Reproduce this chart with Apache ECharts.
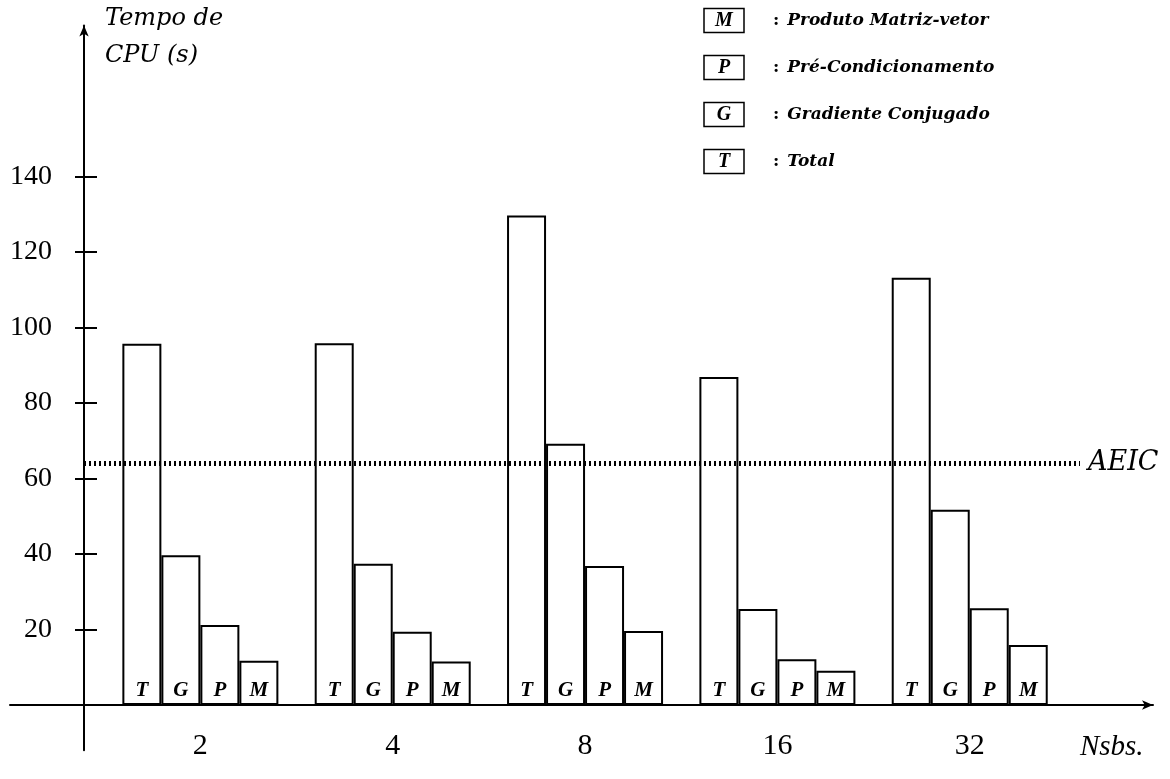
<!DOCTYPE html>
<html>
<head>
<meta charset="utf-8">
<script src="https://cdn.jsdelivr.net/npm/echarts@6/dist/echarts.min.js"></script>
<style>
  html, body { margin: 0; padding: 0; background: #fff; }
  #chart { width: 1170px; height: 779px; }
</style>
</head>
<body>
<div id="chart"></div>
<script>
// Number of subdomains (Nsbs.) and CPU time (s) per phase
const categories = ['2', '4', '8', '16', '32'];
const total      = [95.7, 95.8, 129.7, 86.9, 113.2];
const gradiente  = [39.7, 37.4, 69.2, 25.4, 51.7];
const precond    = [21.2, 19.4, 36.8, 12.1, 25.6];
const matvec     = [11.7, 11.5, 19.6, 9.1, 15.9];

// Reference level of the AEIC solver
const aeicLevel = 64;

// Series names, the letter shown inside each bar, and legend order
const seriesNames   = ['Total', 'Gradiente Conjugado', 'Pré-Condicionamento', 'Produto Matriz-vetor'];
const seriesLetters = ['T', 'G', 'P', 'M'];
const legendOrder   = ['Produto Matriz-vetor', 'Pré-Condicionamento', 'Gradiente Conjugado', 'Total'];

// Y tick labels
const yTickValues = [20, 40, 60, 80, 100, 120, 140];
const yMin = -12;
const yMax = 180;

const seriesValues = [total, gradiente, precond, matvec];
const letterOf = {};
seriesNames.forEach((n, i) => { letterOf[n] = seriesLetters[i]; });

const SERIF = '"Liberation Serif", "DejaVu Serif", serif';
// full plot height runs from yMax down to yMin; the bar grid stops at zero
const TOP = 25.5, BOTTOM = 28.7, BAR_BOTTOM = 74;

const chart = echarts.init(document.getElementById('chart'), null, { renderer: 'canvas' });

const barSeries = seriesNames.map((name, i) => ({
  name: name,
  type: 'bar',
  xAxisIndex: 1,
  yAxisIndex: 1,
  data: seriesValues[i],
  barWidth: 39,
  barGap: '0%',
  itemStyle: { color: '#fff', borderColor: '#000', borderWidth: 2 },
  label: {
    show: true,
    position: 'insideBottom',
    distance: 4,
    formatter: seriesLetters[i],
    fontFamily: SERIF,
    fontStyle: 'italic',
    fontWeight: 'bold',
    fontSize: 21,
    color: '#000'
  },
  emphasis: { disabled: true }
}));

const option = {
  animation: false,
  backgroundColor: '#fff',
  grid: [
    // vertical axis and the AEIC reference line
    { left: 84, right: 90, top: TOP, bottom: BOTTOM, outerBoundsMode: 'none', containLabel: false },
    // bar groups
    { left: 104.2, right: 104.1, top: TOP, bottom: BAR_BOTTOM, outerBoundsMode: 'none', containLabel: false },
    // long horizontal base line
    { left: 10, right: 17, top: TOP, bottom: BOTTOM, outerBoundsMode: 'none', containLabel: false }
  ],
  legend: {
    data: legendOrder,
    orient: 'vertical',
    left: 698,
    top: 7,
    padding: 0,
    itemGap: 20,
    itemWidth: 0,
    itemHeight: 25,
    selectedMode: false,
    itemStyle: { opacity: 0 },
    formatter: name => `{box|${letterOf[name]}}{sep|:}{txt|${name}}`,
    textStyle: {
      color: '#000',
      rich: {
        box: {
          width: 38, height: 23, align: 'center', verticalAlign: 'middle',
          borderColor: '#000', borderWidth: 1.5, padding: [1, 1, 0, 1],
          fontFamily: SERIF, fontStyle: 'italic', fontWeight: 'bold', fontSize: 20, color: '#000'
        },
        sep: {
          padding: [0, 0, 0, 29], verticalAlign: 'middle',
          fontFamily: '"DejaVu Serif", serif', fontWeight: 'bold', fontSize: 17, color: '#000'
        },
        txt: {
          padding: [0, 0, 0, 8], verticalAlign: 'middle',
          fontFamily: '"DejaVu Serif", serif', fontStyle: 'italic', fontWeight: 'bold', fontSize: 17, color: '#000'
        }
      }
    }
  },
  xAxis: [
    { gridIndex: 0, type: 'value', min: 0, max: 1, show: false },
    {
      gridIndex: 1,
      type: 'category',
      data: categories,
      axisLine: { show: false },
      axisTick: { show: false },
      axisLabel: { margin: 26, fontFamily: SERIF, fontSize: 30, color: '#000' },
      name: 'Nsbs.',
      nameLocation: 'end',
      nameGap: 14,
      nameTextStyle: {
        align: 'left', verticalAlign: 'top', padding: [28, 0, 0, 0],
        fontFamily: SERIF, fontStyle: 'italic', fontSize: 29, color: '#000'
      }
    },
    {
      gridIndex: 2,
      type: 'value', min: 0, max: 1,
      axisLine: { show: true, onZero: true, symbol: ['none', 'arrow'], symbolSize: [7, 11],
                  lineStyle: { color: '#000', width: 2 } },
      axisTick: { show: false },
      axisLabel: { show: false },
      splitLine: { show: false }
    }
  ],
  yAxis: [
    {
      gridIndex: 0,
      type: 'value', min: yMin, max: yMax,
      axisLine: { show: true, symbol: ['none', 'arrow'], symbolSize: [7, 11],
                  lineStyle: { color: '#000', width: 2 } },
      axisTick: { show: false },
      splitLine: { show: false },
      axisLabel: { customValues: yTickValues, margin: 32, fontFamily: SERIF, fontSize: 28, color: '#000' },
      name: 'Tempo de\nCPU (s)',
      nameLocation: 'end',
      nameGap: 25,
      nameTextStyle: {
        align: 'left', verticalAlign: 'top', padding: [0, 0, 0, 21], lineHeight: 37,
        fontFamily: '"DejaVu Serif", serif', fontStyle: 'italic', fontSize: 24, color: '#000'
      }
    },
    {
      gridIndex: 1,
      type: 'value', min: 0, max: yMax,
      offset: 7.2,
      axisLine: { show: false },
      axisTick: { show: true, customValues: yTickValues, length: 22, lineStyle: { color: '#000', width: 2 } },
      axisLabel: { show: false },
      splitLine: { show: false }
    },
    { gridIndex: 2, type: 'value', min: yMin, max: yMax, show: false }
  ],
  series: barSeries.concat([
    {
      name: 'AEIC',
      type: 'line',
      xAxisIndex: 0,
      yAxisIndex: 0,
      data: [],
      silent: true,
      markLine: {
        silent: true,
        symbol: ['none', 'none'],
        data: [{ yAxis: aeicLevel }],
        lineStyle: { color: '#000', type: [2, 3], width: 5 },
        label: {
          show: true, position: 'end', distance: 8, formatter: 'AEIC',
          fontFamily: '"DejaVu Serif", serif', fontStyle: 'italic', fontSize: 27, color: '#000'
        },
        emphasis: { disabled: true }
      }
    }
  ])
};

chart.setOption(option);
</script>
</body>
</html>
